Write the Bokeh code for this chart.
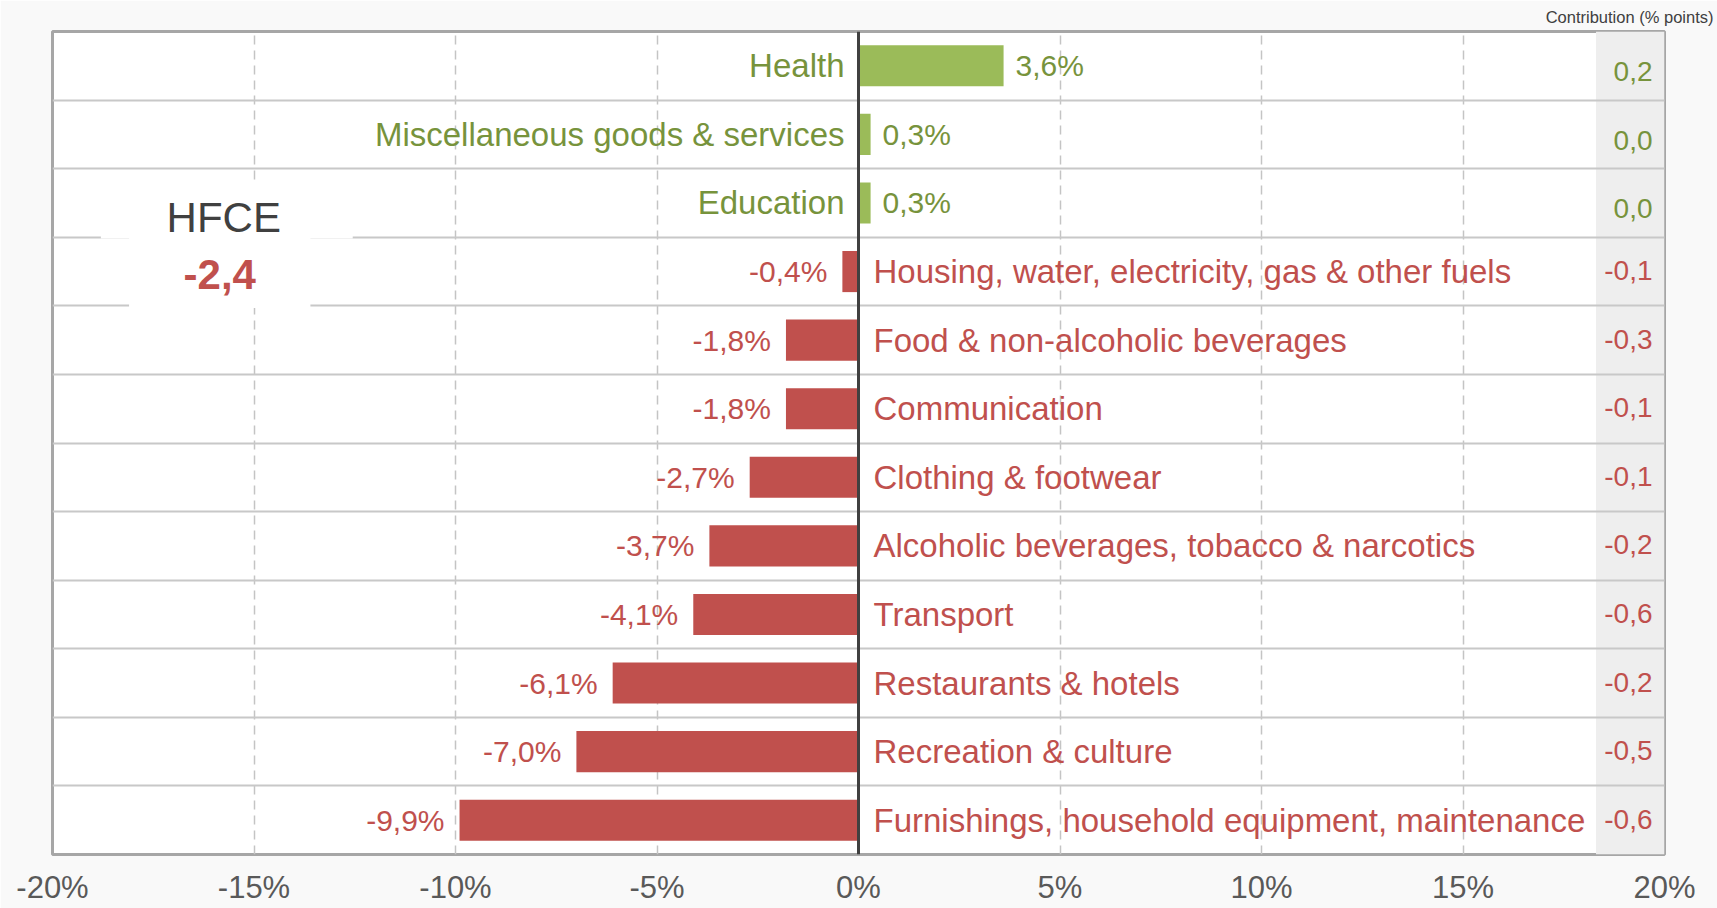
from bokeh.plotting import figure
from bokeh.models import (ColumnDataSource, Range1d, FixedTicker, PrintfTickFormatter,
                          Span, Title)
from bokeh.core.properties import value
from bokeh.embed import file_html
from bokeh.resources import INLINE

# ---- data (top to bottom) ----
categories = [
    "Health",
    "Miscellaneous goods & services",
    "Education",
    "Housing, water, electricity, gas & other fuels",
    "Food & non-alcoholic beverages",
    "Communication",
    "Clothing & footwear",
    "Alcoholic beverages, tobacco & narcotics",
    "Transport",
    "Restaurants & hotels",
    "Recreation & culture",
    "Furnishings, household equipment, maintenance",
]
growth = [3.6, 0.3, 0.3, -0.4, -1.8, -1.8, -2.7, -3.7, -4.1, -6.1, -7.0, -9.9]
contribution = [0.2, 0.0, 0.0, -0.1, -0.3, -0.1, -0.1, -0.2, -0.6, -0.2, -0.5, -0.6]
x_ticks = [-20, -15, -10, -5, 0, 5, 10, 15, 20]
hfce_label = "HFCE"
hfce_value = "-2,4"
contrib_title = "Contribution (% points)"

GREEN_BAR = "#9bbb59"
GREEN_TXT = "#77933c"
RED = "#c0504d"
DARK = "#404040"
FONT = "Liberation Sans"

n = len(categories)
ypos = [n - 1 - i for i in range(n)]


def fmt(v, pct=True):
    s = f"{v:.1f}".replace(".", ",")
    return s + "%" if pct else s


pos_idx = [i for i, v in enumerate(growth) if v >= 0]
neg_idx = [i for i, v in enumerate(growth) if v < 0]


def src(idx):
    return ColumnDataSource(dict(
        y=[ypos[i] for i in idx],
        v=[growth[i] for i in idx],
        zero=[0.0 for i in idx],
        cat=[categories[i] for i in idx],
        vlab=[fmt(growth[i]) for i in idx],
        clab=[fmt(contribution[i], False) for i in idx],
        cx=[20.0 for i in idx],
    ))


pos_src = src(pos_idx)
neg_src = src(neg_idx)

p = figure(width=1717, height=908, output_backend="svg", toolbar_location=None,
           x_range=Range1d(-20, 20), y_range=Range1d(-0.5, n - 0.5),
           min_border_left=52, min_border_right=53, min_border_top=31,
           min_border_bottom=54)
p.background_fill_color = "white"
p.border_fill_color = "#f9f9f9"
p.outline_line_color = "#a6a6a6"
p.outline_line_width = 3

# axes
p.yaxis.visible = False
xa = p.xaxis[0]
xa.ticker = FixedTicker(ticks=x_ticks)
xa.formatter = PrintfTickFormatter(format="%d%%")
xa.axis_line_color = None
xa.major_tick_line_color = None
xa.minor_tick_line_color = None
xa.major_tick_out = 0
xa.major_tick_in = 0
xa.minor_tick_out = 0
xa.minor_tick_in = 0
xa.major_label_text_font = FONT
xa.major_label_text_font_size = "31px"
xa.major_label_text_color = "#595959"
xa.major_label_standoff = 15

# grids
p.xgrid.ticker = FixedTicker(ticks=[t for t in x_ticks if t not in (-20, 0, 20)])
p.xgrid.grid_line_color = "#c4c4c4"
p.xgrid.grid_line_dash = "9 6"
p.xgrid.grid_line_width = 1.5
p.ygrid.ticker = FixedTicker(ticks=[k + 0.5 for k in range(n - 1)])
p.ygrid.grid_line_color = "#c8c8c8"
p.ygrid.grid_line_width = 2

# grey contribution column
p.quad(left=[18.3], right=[20], bottom=[-0.5], top=[n - 0.5],
       fill_color="#eeeeee", line_color=None, level="image")

# HFCE box
p.quad(left=[-18.8, -18.1], right=[-12.55, -13.6], bottom=[8.48, 7.47], top=[9.31, 8.52],
       fill_color="white", line_color=None)
p.text(x=[-15.75], y=[8.79], text=[hfce_label], text_font=value(FONT),
       text_font_size="42px", text_color=DARK, text_align="center", text_baseline="middle")
p.text(x=[-15.85], y=[7.96], text=[hfce_value], text_font=value(FONT),
       text_font_size="42px", text_font_style="bold", text_color=RED,
       text_align="center", text_baseline="middle")

# bars
p.hbar(y="y", left="zero", right="v", height=0.6, source=pos_src,
       fill_color=GREEN_BAR, line_color=None)
p.hbar(y="y", left="zero", right="v", height=0.6, source=neg_src,
       fill_color=RED, line_color=None)

# labels for positive rows
common = dict(text_font=value(FONT), text_baseline="middle")
p.text(x="zero", y="y", text="cat", source=pos_src, x_offset=-14, text_align="right",
       text_font_size="33px", text_color=GREEN_TXT, **common)
p.text(x="v", y="y", text="vlab", source=pos_src, x_offset=12, text_align="left",
       text_font_size="30px", text_color=GREEN_TXT, **common)
p.text(x="cx", y="y", text="clab", source=pos_src, x_offset=-12, y_offset=6,
       text_align="right", text_font_size="28px", text_color=GREEN_TXT, **common)

# labels for negative rows
p.text(x="zero", y="y", text="cat", source=neg_src, x_offset=15, text_align="left",
       text_font_size="33px", text_color=RED, **common)
p.text(x="v", y="y", text="vlab", source=neg_src, x_offset=-15, text_align="right",
       text_font_size="30px", text_color=RED, **common)
p.text(x="cx", y="y", text="clab", source=neg_src, x_offset=-12, y_offset=-1,
       text_align="right", text_font_size="28px", text_color=RED, **common)

# zero line
p.add_layout(Span(location=0, dimension="height", line_color=DARK, line_width=3))

# contribution header
t = Title(text=contrib_title, align="right", offset=-49, text_font=FONT,
          text_font_size="16.5px", text_font_style="normal", text_color=DARK, standoff=11)
p.add_layout(t, "above")

html = file_html(p, INLINE)
html = html.replace("<body>", '<body style="background-color:#f9f9f9;">', 1)
open("out.html", "w").write(html)
